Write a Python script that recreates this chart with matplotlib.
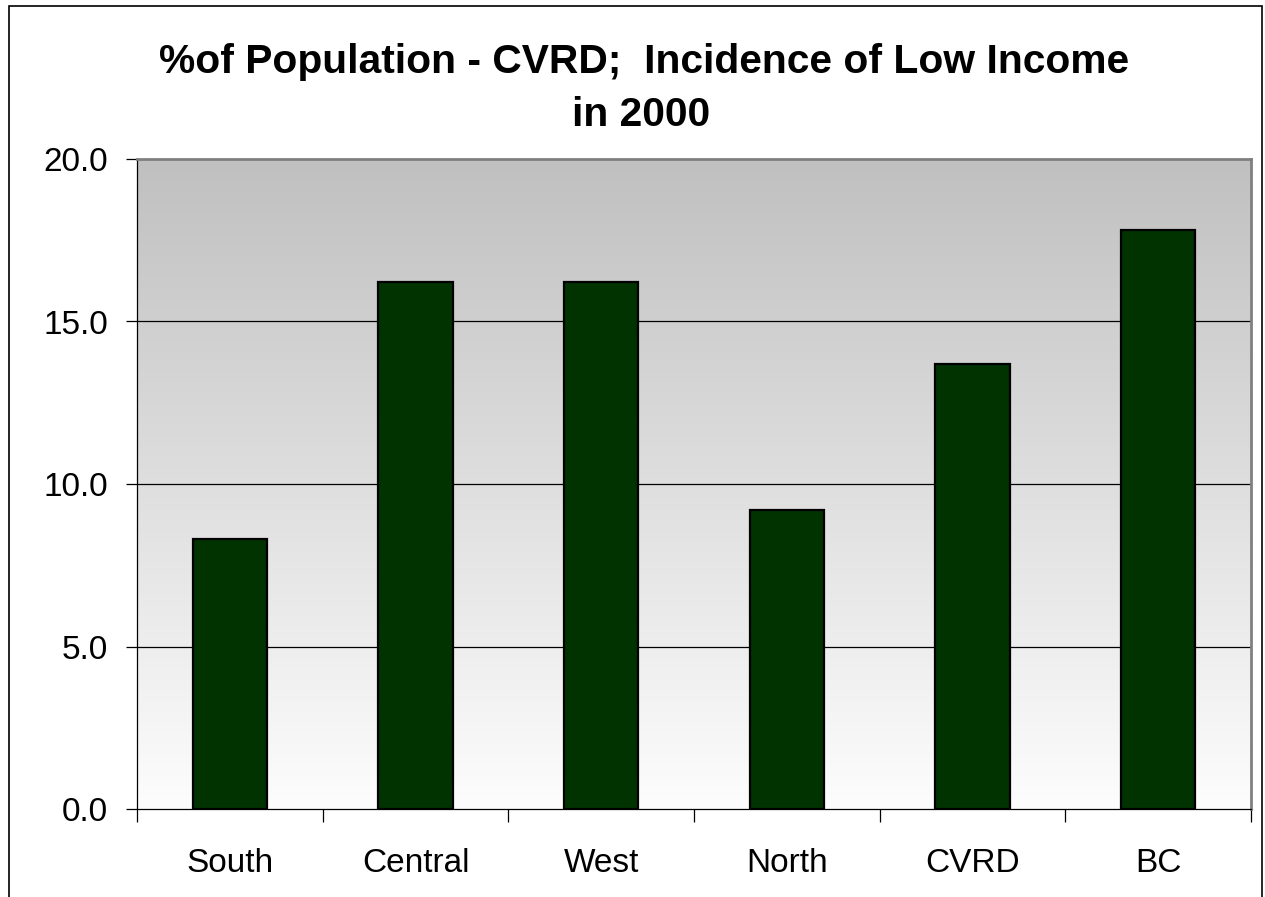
import numpy as np
import matplotlib.pyplot as plt
from matplotlib.colors import LinearSegmentedColormap
from matplotlib.patches import Rectangle

# Данные
regions = ['South', 'Central', 'West', 'North', 'CVRD', 'BC']
low_income_pct = [8.3, 16.2, 16.2, 9.2, 13.7, 17.8]
y_ticks = [0.0, 5.0, 10.0, 15.0, 20.0]
title_lines = ['%of Population - CVRD;  Incidence of Low Income', 'in 2000']

plt.rcParams['font.family'] = ['Liberation Sans', 'DejaVu Sans']

W, H = 1265, 897
fig = plt.figure(figsize=(W / 100, H / 100), dpi=100)
ax = fig.add_axes([137 / W, 88 / H, (1251 - 137) / W, (809 - 159) / H])

# Градиентный фон области построения
grad = np.linspace(0, 1, 256).reshape(-1, 1)
bg_cmap = LinearSegmentedColormap.from_list('bg', ['#fdfdfd', '#c0c0c0'])
ax.imshow(grad, cmap=bg_cmap, origin='lower', aspect='auto',
          extent=[0, 1, 0, 1], transform=ax.transAxes, zorder=0)

x = np.arange(len(regions))
ax.bar(x, low_income_pct, width=0.40, color='#003300', edgecolor='black',
       linewidth=1.6, zorder=3)

ax.set_xlim(-0.5, len(regions) - 0.5)
ax.set_ylim(0, 20)
ax.set_yticks(y_ticks)
ax.set_yticklabels([f'{v:.1f}' for v in y_ticks], fontsize=24)
for v in y_ticks[1:-1]:
    ax.axhline(v, color='black', linewidth=0.9, zorder=1)

ax.set_xticks(x)
ax.set_xticklabels(regions, fontsize=24)
ax.set_xticks(np.arange(len(regions) + 1) - 0.5, minor=True)
ax.tick_params(axis='x', which='major', length=0, pad=28)
ax.tick_params(axis='x', which='minor', length=9, width=0.9, direction='out')
ax.tick_params(axis='y', length=8, width=0.9, direction='out', pad=13)

for side in ['top', 'right']:
    ax.spines[side].set_color('#808080')
    ax.spines[side].set_linewidth(2)
for side in ['left', 'bottom']:
    ax.spines[side].set_color('black')
    ax.spines[side].set_linewidth(0.9)

# Заголовок в две строки
fig.text(644 / W, 1 - 73 / H, title_lines[0], ha='center', va='baseline',
         fontsize=29.3, fontweight='bold')
fig.text(641 / W, 1 - 126 / H, title_lines[1], ha='center', va='baseline',
         fontsize=29.3, fontweight='bold')

# Рамка вокруг диаграммы
fig.patches.append(Rectangle((9 / W, -0.02), (1262 - 9) / W, 1.02 - 6 / H,
                             transform=fig.transFigure, fill=False,
                             edgecolor='black', linewidth=1.2))

fig.savefig('out.png', dpi=100)
